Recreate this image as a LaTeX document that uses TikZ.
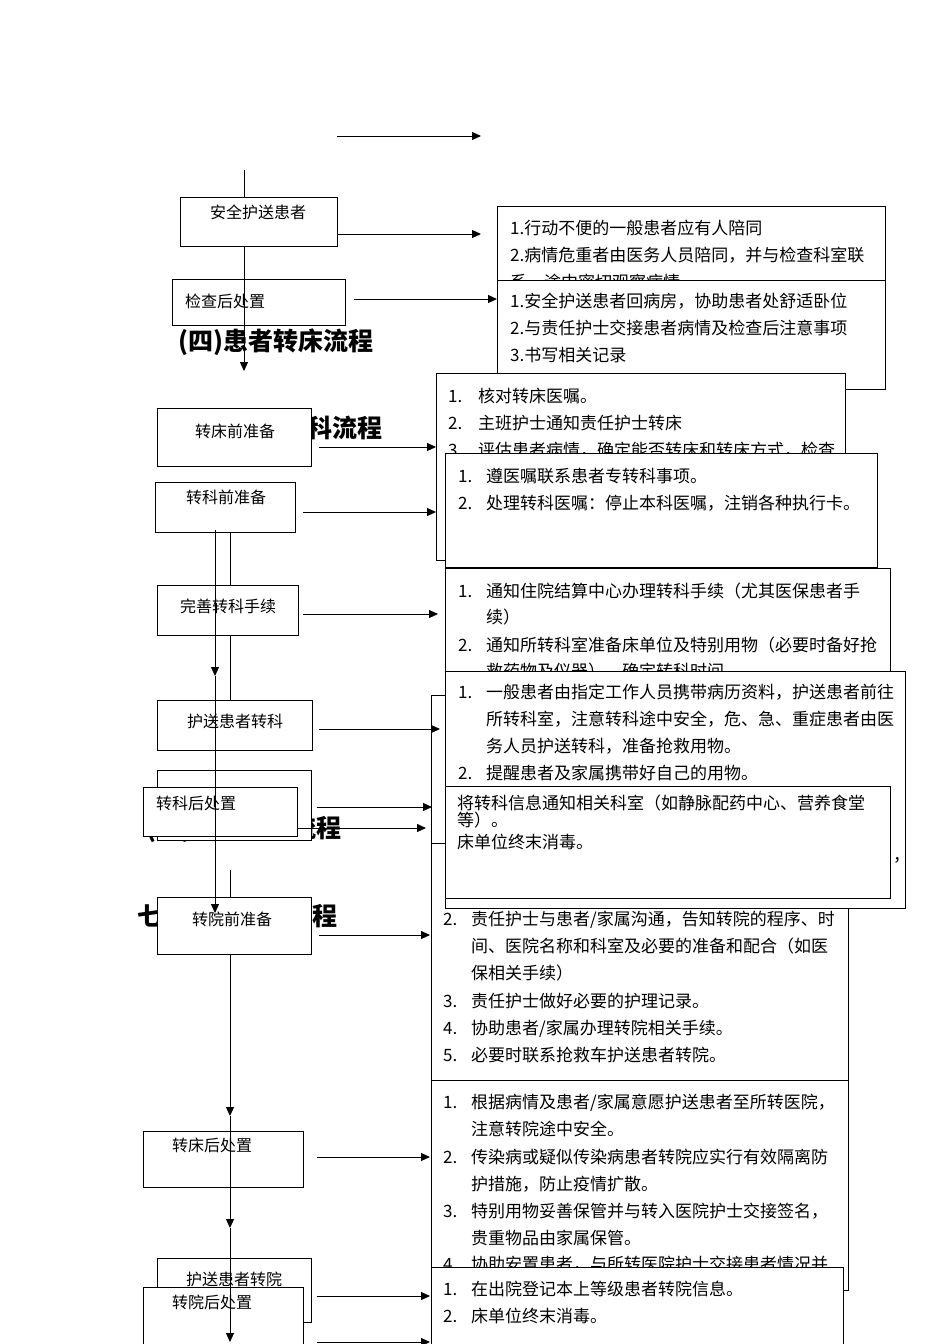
\documentclass[tikz,border=0pt]{standalone}
\usepackage{fontspec}
\setmainfont{Noto Sans CJK SC}
\usetikzlibrary{arrows.meta}
\tikzset{
  flowbox/.style = {draw, fill = white, line width = 1pt, anchor = north west, inner sep = 0pt},
  ln/.style = {anchor = base west, yshift = -6pt, inner sep = 0pt, font = \fontsize{17}{20}\selectfont},
  lbl/.style = {anchor = base, yshift = -6pt, inner sep = 0pt, font = \fontsize{16}{18}\selectfont},
  lblw/.style = {lbl, anchor = base west},
  hd/.style = {anchor = base west, yshift = -9pt, inner sep = 0pt, font = \fontsize{25}{28}\selectfont\bfseries},
  arr/.style = {-{Triangle[length = 9pt, width = 8pt]}, line width = 1pt},
  ln0/.style = {line width = 1pt}
}
\begin{document}
\begin{tikzpicture}[x = 1pt, y = -1pt]
  \useasboundingbox (0, 0) rectangle (950, 1344);

  % headings
  \node[hd] (h4) at (178, 341) {(四)患者转床流程};
  \node[hd] (h5) at (187, 428) {(五)患者转科流程};
  \node[hd] (h6) at (146, 828) {(六)患者转院流程};
  \node[hd] (h7) at (137, 916) {七、患者转院流程};

  % right side lists
  \node[flowbox, minimum width = 388pt, minimum height = 80pt] (xingdong) at (497, 206) {};
  \foreach \y/\t in {228/{1.行动不便的一般患者应有人陪同}, 255/{2.病情危重者由医务人员陪同，并与检查科室联}, 282/{系，途中密切观察病情}}
    \node[ln] (xd\y) at (510, \y) {\t};

  \node[flowbox, minimum width = 388pt, minimum height = 109pt] (huifang) at (497, 280) {};
  \foreach \y/\t in {301/{1.安全护送患者回病房，协助患者处舒适卧位}, 328/{2.与责任护士交接患者病情及检查后注意事项}, 355/{3.书写相关记录}}
    \node[ln] (hf\y) at (510, \y) {\t};

  \node[flowbox, minimum width = 409pt, minimum height = 187pt] (hedui) at (436, 373) {};
  \foreach \y/\n/\t in {396/1./核对转床医嘱。, 423/2./主班护士通知责任护士转床, 450/3./评估患者病情，确定能否转床和转床方式，检查} {
    \node[ln] (hdn\y) at (448, \y) {\n};
    \node[ln] (hdt\y) at (478, \y) {\t};
  }

  \node[flowbox, minimum width = 432pt, minimum height = 114pt] (zunyi) at (445, 453) {};
  \foreach \y/\n/\t in {476/1./遵医嘱联系患者专转科事项。, 503/2./处理转科医嘱：停止本科医嘱，注销各种执行卡。} {
    \node[ln] (zyn\y) at (458, \y) {\n};
    \node[ln] (zyt\y) at (486, \y) {\t};
  }

  \node[flowbox, minimum width = 445pt, minimum height = 122pt] (tongzhi) at (445, 568) {};
  \foreach \y/\n/\t in {591/1./通知住院结算中心办理转科手续（尤其医保患者手, 617/{}/续）, 645/2./通知所转科室准备床单位及特别用物（必要时备好抢, 671/{}/救药物及仪器），确定转科时间} {
    \node[ln] (tzn\y) at (458, \y) {\n};
    \node[ln] (tzt\y) at (486, \y) {\t};
  }

  \node[flowbox, minimum width = 440pt, minimum height = 148pt] (hidden) at (431, 695) {};

  \node[flowbox, minimum width = 417pt, minimum height = 237pt] (zhuanyuan) at (431, 843) {};
  \foreach \y/\n/\t in {919/2./{责任护士与患者/家属沟通，告知转院的程序、时}, 946/{}/间、医院名称和科室及必要的准备和配合（如医, 973/{}/保相关手续）, 1001/3./责任护士做好必要的护理记录。, 1028/4./{协助患者/家属办理转院相关手续。}, 1055/5./必要时联系抢救车护送患者转院。} {
    \node[ln] (zyyn\y) at (443, \y) {\n};
    \node[ln] (zyyt\y) at (471, \y) {\t};
  }

  \node[flowbox, minimum width = 460pt, minimum height = 237pt] (husong) at (445, 671) {};
  \foreach \y/\n/\t in {692/1./一般患者由指定工作人员携带病历资料，护送患者前往, 719/{}/所转科室，注意转科途中安全，危、急、重症患者由医, 746/{}/务人员护送转科，准备抢救用物。, 773/2./提醒患者及家属携带好自己的用物。} {
    \node[ln] (hsn\y) at (458, \y) {\n};
    \node[ln] (hst\y) at (486, \y) {\t};
  }
  \node[ln] (douhao) at (893, 855) {，};

  \node[flowbox, minimum width = 445pt, minimum height = 112pt] (xinxi) at (445, 786) {};
  \foreach \y/\t in {803/将转科信息通知相关科室（如静脉配药中心、营养食堂, 820/等）。, 842/床单位终末消毒。}
    \node[ln] (xx\y) at (457, \y) {\t};

  \node[flowbox, minimum width = 417pt, minimum height = 210pt] (genju) at (431, 1080) {};
  \foreach \y/\n/\t in {1102/1./{根据病情及患者/家属意愿护送患者至所转医院，}, 1129/{}/注意转院途中安全。, 1157/2./传染病或疑似传染病患者转院应实行有效隔离防, 1184/{}/护措施，防止疫情扩散。, 1211/3./特别用物妥善保管并与转入医院护士交接签名，, 1238/{}/贵重物品由家属保管。, 1264/4./协助安置患者，与所转医院护士交接患者情况并} {
    \node[ln] (gjn\y) at (443, \y) {\n};
    \node[ln] (gjt\y) at (471, \y) {\t};
  }

  \node[flowbox, minimum width = 412pt, minimum height = 90pt] (dengji) at (431, 1267) {};
  \foreach \y/\n/\t in {1289/1./在出院登记本上等级患者转院信息。, 1316/2./床单位终末消毒。} {
    \node[ln] (djn\y) at (443, \y) {\n};
    \node[ln] (djt\y) at (471, \y) {\t};
  }

  % left side steps
  \node[flowbox, minimum width = 157pt, minimum height = 49pt] (anquan) at (180, 197) {};
  \node[lbl] (anquanl) at (258, 212) {安全护送患者};
  \node[flowbox, minimum width = 173pt, minimum height = 46pt] (jiancha) at (172, 279) {};
  \node[lblw] (jianchal) at (185, 301) {检查后处置};
  \node[flowbox, minimum width = 154pt, minimum height = 58pt] (zcq) at (157, 408) {};
  \node[lbl] (zcql) at (235, 431) {转床前准备};
  \node[flowbox, minimum width = 140pt, minimum height = 50pt] (zkq) at (155, 482) {};
  \node[lbl] (zkql) at (226, 497) {转科前准备};
  \node[flowbox, minimum width = 141pt, minimum height = 50pt] (ws) at (157, 585) {};
  \node[lbl] (wsl) at (228, 606) {完善转科手续};
  \node[flowbox, minimum width = 155pt, minimum height = 50pt] (hs) at (157, 700) {};
  \node[lbl] (hsl) at (235, 721) {护送患者转科};
  \node[flowbox, minimum width = 154pt, minimum height = 70pt] (zr) at (157, 770) {};
  \node[flowbox, minimum width = 154pt, minimum height = 49pt] (zkh) at (143, 787) {};
  \node[lblw] (zkhl) at (156, 803) {转科后处置};
  \node[flowbox, minimum width = 154pt, minimum height = 57pt] (zyq) at (157, 897) {};
  \node[lbl] (zyql) at (232, 919) {转院前准备};
  \node[flowbox, minimum width = 160pt, minimum height = 56pt] (zch) at (143, 1131) {};
  \node[lblw] (zchl) at (172, 1145) {转床后处置};
  \node[flowbox, minimum width = 154pt, minimum height = 64pt] (hsy) at (157, 1258) {};
  \node[lbl] (hsyl) at (234, 1279) {护送患者转院};
  \node[flowbox, minimum width = 160pt, minimum height = 70pt] (zyh) at (143, 1287) {};
  \node[lblw] (zyhl) at (172, 1302) {转院后处置};

  % vertical lines
  \coordinate (v0) at (244, 170);
  \draw[ln0] (v0) -- (v0 |- anquan.north);
  \coordinate (v1) at (244, 371);
  \draw[arr] (v1 |- anquan.south) -- (v1);
  \coordinate (p1) at (215, 530);
  \coordinate (p2) at (215, 676);
  \coordinate (p3) at (215, 913);
  \draw[arr] (p1) -- (p2);
  \draw[arr] (p2) -- (p3);
  \coordinate (q0) at (230, 0);
  \draw[ln0] (q0 |- zkq.south) -- (q0 |- ws.north);
  \draw[ln0] (q0 |- ws.south) -- (q0 |- hs.north);
  \coordinate (q1) at (230, 870);
  \draw[ln0] (q1) -- (q1 |- zyq.north);
  \coordinate (q2) at (230, 1116);
  \coordinate (q3) at (230, 1228);
  \coordinate (q4) at (230, 1342);
  \draw[arr] (q0 |- zyq.south) -- (q2);
  \draw[arr] (q2) -- (q3);
  \draw[arr] (q3) -- (q4);

  % horizontal arrows
  \coordinate (a0s) at (337, 136);
  \coordinate (a0e) at (481, 136);
  \draw[arr] (a0s) -- (a0e);
  \coordinate (a1) at (481, 234);
  \draw[arr] (anquan.east |- a1) -- (a1);
  \coordinate (a2) at (497, 299);
  \draw[arr] ([xshift = 8pt]jiancha.east |- a2) -- (a2);
  \coordinate (a3) at (436, 447);
  \draw[arr] ([xshift = 7pt]zcq.east |- a3) -- (a3);
  \coordinate (a4) at (436, 512);
  \draw[arr] ([xshift = 7pt]zkq.east |- a4) -- (a4);
  \coordinate (a5) at (438, 614);
  \draw[arr] ([xshift = 4pt]ws.east |- a5) -- (a5);
  \coordinate (a6) at (440, 729);
  \draw[arr] ([xshift = 6pt]hs.east |- a6) -- (a6);
  \coordinate (a7) at (432, 807);
  \draw[arr] ([xshift = 5pt]zr.east |- a7) -- (a7);
  \coordinate (a8) at (426, 828);
  \draw[arr] (zkh.east |- a8) -- (a8);
  \coordinate (a9) at (430, 935);
  \draw[arr] ([xshift = 7pt]zyq.east |- a9) -- (a9);
  \coordinate (a10) at (430, 1157);
  \draw[arr] ([xshift = 13pt]zch.east |- a10) -- (a10);
  \coordinate (a11) at (430, 1296);
  \draw[arr] ([xshift = 13pt]zyh.east |- a11) -- (a11);
  \coordinate (a12) at (430, 1342);
  \draw[arr] ([xshift = 13pt]zyh.east |- a12) -- (a12);
\end{tikzpicture}
\end{document}
